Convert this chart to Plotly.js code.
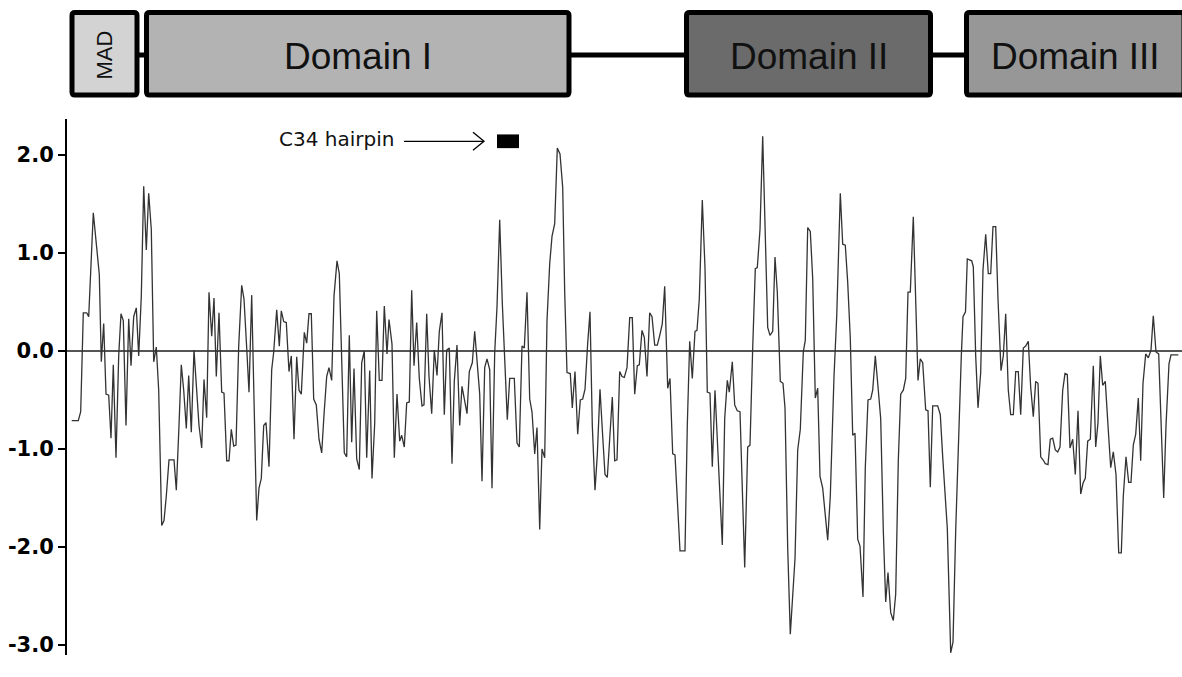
<!DOCTYPE html>
<html>
<head>
<meta charset="utf-8">
<script src="https://cdn.plot.ly/plotly-3.0.1.min.js"></script>
<style>html,body{margin:0;padding:0;background:#fff;}#chart{width:1182px;height:677px;}</style>
</head>
<body>
<div id="chart"></div>
<script>
// Sequence position (arbitrary residue scale) and profile value
const position = [
4.7,11.3,13.7,16.3,19.7,21.7,26.3,31.3,32.3,34.3,36.7,39,41.7,44,46.3,49,51.7,54,56.3,59,61.7,64,66.7,69.3,71.7,74.3,76.7,79.3,81.7,84.3,86.7,89.3,91.7,94.7,97,99.3,102,107,109.3,112,114.3,116.7,119.3,121.7,124.3,127,129.7,132,134.7,137,139.7,142,144.7,147,149.3,152,154.7,157,159.7,162,164.3,166.7,169,171.7,174.7,177,179.7,
182,184.7,187,189.7,192,194.3,196.7,199,202,204.7,206.7,209.7,212.3,214.3,216.7,219.3,222,224.3,227,229.7,232,234.3,237.3,239.7,242,244.3,246.7,249.3,252,254.7,257,259.7,262,264.7,267,270,272.3,274.7,277.3,279.7,282.3,284.7,287,289.7,292.3,294.7,297.3,299.7,302.7,305,307.7,309.7,312.3,315,317.3,320,322,325,327.3,330,332.7,334.7,337.3,339.7,342.3,344.7,347,349.7,352.3,355,357,
359.7,362,364.7,367.3,370,372.3,375,377.3,379.7,382.3,385,387.3,390,392.7,395,397.3,400,402.3,405.3,407.7,410.3,412.7,415,417.7,420,422.7,425,427.7,430,432.7,435.3,437.7,440.3,442.7,447.3,450,452.3,455,457.3,460,462.7,465,467.7,470,472.7,475,477.7,480,482.7,485,487.7,490.3,493,495.7,497.7,500,503.3,505.3,508,510.7,513.3,515.7,518,520.7,523,525.3,528,530.3,533,
535.7,538,540.3,543,545.3,547.7,550,552.7,555,557.3,560,562.7,565.3,567.7,570.3,572.3,575,577.3,580,582.7,585,587.7,590.3,593,595.3,597.7,600.7,603,605.7,608,613,618,620.3,622.7,625.3,628,630,632.3,635.3,638,640.3,643,645.3,648,650,652.7,655.3,657.7,660.3,662.3,665.3,667.7,670.3,673,675,677.7,680.7,683,685.7,688.3,690.3,693,695.7,698.3,700.7,703,705.7,708,710.3,713.3,716,
718,720.7,723.3,725.7,728,730.7,733.3,736.3,738.3,740.7,743.3,745.7,748.3,750.7,753,755.7,760.7,763.3,767,769.7,773.3,775.7,778.3,780.7,783.3,785.7,788,790.7,793,796,798.3,801,803.7,805.7,808.3,811.3,813.7,816.3,818.7,821,823.7,826.3,828.7,831.3,833.7,836.3,838.7,841,843.3,846.3,848.7,851,853.3,855.7,858.7,861,863.3,865.7,870.7,873.3,875.7,880.3,883.7,886,888.7,891.7,894.3,
896,898.5,900.3,904.7,906.3,908.7,911,913.7,916,918.7,921.3,923.7,926,928.7,931,934,936.3,938.7,941.3,943.7,946.3,948.7,951.3,953.7,956.3,958.7,961.3,963.7,966.3,968.7,971,973.7,976,978.3,981,983.3,985.7,988.3,990.7,993,995.7,998,1000.3,1003,1005.7,1008.3,1011,1013.7,1016,1018.3,1020.7,1023.3,1026.3,1028.7,1031,1033.3,1035.7,1038.3,1041,1043.7,1046.3,1049,1051.7,1054.3,1056.3,1059,1061.7,1064,1066.3,1068.7,1071.3,1073.7,1076,1078.7,1081.3,1084,1086.3,1089,1091.7,1094,1096.7,1099,1102,1104,1111.3
];
const profile = [
-0.71,-0.71,-0.62,0.39,0.39,0.35,1.41,0.83,0.78,-0.11,0.28,-0.44,-0.45,-0.89,-0.14,-1.09,-0.05,0.38,0.31,-0.76,0.33,-0.15,0.35,0.44,-0.05,0.56,1.68,1.03,1.61,1.24,-0.11,0.04,-0.40,-1.78,-1.73,-1.48,-1.11,-1.11,-1.42,-0.76,-0.14,-0.40,-0.79,-0.25,-0.83,0.01,-0.37,-0.76,-0.99,-0.29,-0.68,0.60,0.15,0.54,-0.26,0.39,-0.42,-0.43,-1.12,-1.12,-0.80,-0.97,-0.96,0.05,0.67,0.53,0.03,
-0.42,0.57,-0.58,-1.73,-1.40,-1.30,-0.76,-0.73,-1.18,-0.19,-0.01,0.42,0.05,0.41,0.30,0.29,-0.21,-0.05,-0.90,-0.06,-0.40,-0.44,0.19,0.08,0.38,0.38,-0.49,-0.55,-0.90,-1.04,-0.65,-0.26,-0.17,-0.30,0.56,0.92,0.79,-0.05,-1.04,-1.08,0.16,-0.93,-0.18,-1.10,-1.21,-0.12,0.00,-1.09,-0.20,-1.30,-0.74,0.41,-0.30,-0.30,0.46,-0.03,0.32,0.07,-1.09,-0.44,-0.92,-0.86,-0.98,-0.53,-0.52,0.62,-0.15,0.29,-0.28,-0.56,-0.55,
0.38,-0.26,-0.64,0.01,-0.25,0.20,0.39,-0.65,0.01,0.03,-1.15,-0.31,0.06,-0.76,-0.36,-0.50,-0.64,-0.21,-0.12,0.20,-0.12,-0.44,-1.33,-0.17,-0.08,-0.19,-1.40,-0.02,0.45,1.34,0.49,-0.05,-0.70,-0.28,-0.28,-0.94,-0.98,0.05,0.03,0.60,-0.49,-0.62,-1.05,-0.78,-1.82,-1.00,-1.09,0.31,0.89,1.17,1.30,2.07,2.01,1.67,0.60,-0.22,-0.23,-0.58,-0.21,-0.85,-0.50,-0.49,-0.39,0.08,0.40,-0.76,-1.42,-1.06,-0.39,
-0.87,-1.26,-1.29,-0.85,-0.47,-1.12,-1.11,-0.21,-0.26,-0.27,-0.17,0.34,0.34,-0.44,-0.15,-0.14,0.21,0.14,-0.26,0.39,0.35,0.06,0.06,0.17,0.28,0.66,-0.38,-0.28,-1.05,-1.06,-2.04,-2.04,-0.76,0.10,-0.28,0.20,0.21,0.53,1.54,0.85,-0.42,-0.43,-1.18,-0.40,-0.83,-1.55,-1.98,-0.69,-0.30,-0.42,-0.11,-0.55,-0.61,-0.62,-1.30,-2.21,-0.98,-0.96,0.03,0.84,0.85,1.24,2.19,1.20,0.24,0.16,0.20,0.96,0.60,-0.31,-0.33,
-0.58,-2.01,-2.89,-2.55,-2.12,-1.01,-0.80,-0.01,0.11,1.26,1.22,0.74,-0.48,-0.38,-1.28,-1.40,-1.93,-1.48,-0.26,0.35,1.61,1.09,1.08,0.70,0.13,-0.86,-0.84,-1.92,-1.99,-2.51,-1.19,-0.50,-0.49,-0.40,-0.05,-0.40,-0.69,-1.83,-2.56,-2.26,-2.67,-2.75,-2.48,-1.12,-0.44,-0.40,-0.28,0.60,0.60,1.37,0.60,-0.30,-0.08,-0.12,-0.60,-0.61,-1.39,-0.56,-0.56,-0.65,-1.08,-1.81,-3.08,-2.97,-1.83,-0.76,-0.05,
0.35,0.40,0.94,0.92,0.86,-0.05,-0.58,-0.22,0.83,1.19,0.79,0.79,1.27,1.27,0.53,-0.20,-0.05,0.38,-0.40,-0.65,-0.65,-0.21,-0.21,-0.65,0.03,0.05,0.10,-0.37,-0.67,-0.31,-0.33,-1.08,-1.11,-1.15,-1.16,-0.90,-0.89,-1.01,-1.03,-0.98,-0.40,-0.23,-0.24,-0.99,-0.90,-1.26,-0.61,-1.46,-1.35,-1.30,-0.92,-0.90,-0.15,-0.98,-0.73,-0.05,-0.35,-0.31,-0.76,-1.19,-1.03,-1.26,-2.06,-2.06,-1.48,-1.08,-1.34,-1.34,-0.96,-0.85,-0.48,-1.12,-0.33,-0.03,-0.07,0.01,0.36,-0.01,-0.03,-0.78,-1.50,-0.76,-0.13,-0.04,-0.04
];

// Domain map
const domainNames = ['MAD', 'Domain I', 'Domain II', 'Domain III'];
const domainStart = [5, 79.5, 619.5, 899.5];
const domainEnd = [70, 502, 863.5, 1117];
const domainColors = ['#d3d3d3', '#b3b3b3', '#6b6b6b', '#979797'];

// C34 hairpin region
const c34Label = 'C34 hairpin';
const c34Start = 430;
const c34End = 452;

// Y ticks
const yTickVals = [-3, -2, -1, 0, 1, 2];
const yTickText = ['-3.0', '-2.0', '-1.0', '0.0', '1.0', '2.0'];

const boxY0 = 1.0448, boxY1 = 1.1987, midY = 1.1194;
const rx = 3, ry = 3 / 536;

function roundRect(x0, x1, y0, y1) {
  return 'M' + (x0 + rx) + ',' + y1 + ' L' + (x1 - rx) + ',' + y1 +
    ' Q' + x1 + ',' + y1 + ' ' + x1 + ',' + (y1 - ry) +
    ' L' + x1 + ',' + (y0 + ry) + ' Q' + x1 + ',' + y0 + ' ' + (x1 - rx) + ',' + y0 +
    ' L' + (x0 + rx) + ',' + y0 + ' Q' + x0 + ',' + y0 + ' ' + x0 + ',' + (y0 + ry) +
    ' L' + x0 + ',' + (y1 - ry) + ' Q' + x0 + ',' + y1 + ' ' + (x0 + rx) + ',' + y1 + ' Z';
}

const shapes = [];
// backbone connector
shapes.push({type: 'line', xref: 'x', yref: 'paper', x0: domainStart[0], x1: domainStart[3], y0: midY, y1: midY,
  line: {color: '#000', width: 5}, layer: 'above'});
for (let i = 0; i < domainNames.length; i++) {
  shapes.push({type: 'path', xref: 'x', yref: 'paper', path: roundRect(domainStart[i], domainEnd[i], boxY0, boxY1),
    fillcolor: domainColors[i], line: {color: '#000', width: 5}, layer: 'above'});
}
// C34 region box
shapes.push({type: 'rect', xref: 'x', yref: 'y', x0: c34Start, x1: c34End, y0: 2.07, y1: 2.21,
  fillcolor: '#000', line: {width: 0}});
// arrow shaft
shapes.push({type: 'line', xref: 'x', yref: 'y', xsizemode: 'pixel', xanchor: c34Start - 13,
  x0: -80, x1: 0, y0: 2.14, y1: 2.14, line: {color: '#000', width: 1.2}});
// arrow head (open chevron)
shapes.push({type: 'path', xref: 'x', yref: 'y', xsizemode: 'pixel', ysizemode: 'pixel',
  xanchor: c34Start - 13, yanchor: 2.14, path: 'M-11,-9 L0,0 L-11,9', line: {color: '#000', width: 1.3}});

const annotations = [];
for (let i = 0; i < domainNames.length; i++) {
  const isMad = domainNames[i] === 'MAD';
  annotations.push({xref: 'x', yref: 'paper', x: (domainStart[i] + domainEnd[i]) / 2, y: isMad ? midY : 1.1175,
    text: domainNames[i], showarrow: false, textangle: isMad ? -90 : 0,
    font: {family: 'Liberation Sans, Arial, sans-serif', size: isMad ? 22 : 37, color: '#111'},
    xanchor: 'center', yanchor: 'middle'});
}
annotations.push({xref: 'x', yref: 'y', x: c34Start - 101, y: 2.168, text: c34Label, showarrow: false,
  xanchor: 'right', yanchor: 'middle', font: {family: 'DejaVu Sans, sans-serif', size: 20, color: '#111'}});

const trace = {
  x: position, y: profile, type: 'scatter', mode: 'lines',
  line: {color: '#333', width: 1.3}, hoverinfo: 'skip'
};

const layout = {
  width: 1182, height: 677,
  margin: {l: 67, r: 0, t: 119, b: 22},
  paper_bgcolor: '#fff', plot_bgcolor: '#fff',
  showlegend: false,
  xaxis: {range: [0, 1115], visible: false, showgrid: false, zeroline: false, fixedrange: true},
  yaxis: {range: [-3.102, 2.3673], showgrid: false, zeroline: true, zerolinecolor: '#555', zerolinewidth: 1.5,
    showline: true, linecolor: '#000', linewidth: 2, ticks: 'outside', ticklen: 7, tickwidth: 2, tickcolor: '#000',
    tickvals: yTickVals, ticktext: yTickText,
    tickfont: {family: 'DejaVu Sans, sans-serif', size: 21, color: '#000', weight: 700}, fixedrange: true},
  shapes: shapes,
  annotations: annotations
};

Plotly.newPlot('chart', [trace], layout, {displayModeBar: false, staticPlot: true});
</script>
</body>
</html>
